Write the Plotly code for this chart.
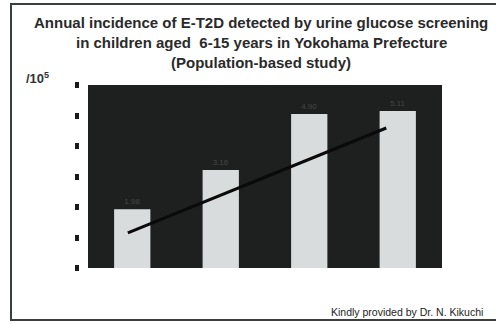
import plotly.graph_objects as go

# Data
categories = ["Y1", "Y2", "Y3", "Y4"]
incidence = [1.93, 3.21, 5.05, 5.15]
bar_labels = ["1.98", "3.16", "4.90", "5.11"]
trend_x = [-0.05, 2.87]
trend_y = [1.15, 4.59]
y_ticks = [0, 1, 2, 3, 4, 5, 6]

W, H = 496, 324
ml, mr, mt, mb = 79, 54, 85, 56
plot_w = W - ml - mr
plot_h = H - mt - mb
x_start = (88 - ml) / plot_w


def px_x(px):
    return (px - ml) / plot_w


def px_y(py):
    return (H - mb - py) / plot_h


fig = go.Figure()
fig.add_trace(go.Bar(
    x=list(range(len(categories))), y=incidence,
    width=0.41,
    marker=dict(color="#d9dcdc", line=dict(width=0)),
    text=bar_labels, textposition="outside",
    textfont=dict(size=8, color="#444746", family="Liberation Sans"),
    cliponaxis=False,
    hoverinfo="skip",
))
fig.add_trace(go.Scatter(
    x=trend_x, y=trend_y, mode="lines",
    line=dict(color="#0a0a0a", width=3),
    hoverinfo="skip",
))

fig.update_layout(
    width=W, height=H,
    margin=dict(l=ml, r=mr, t=mt, b=mb),
    paper_bgcolor="white",
    plot_bgcolor="#1d201f",
    showlegend=False,
    xaxis=dict(
        domain=[x_start, 1],
        range=[-0.5, 3.5],
        showticklabels=False, showgrid=False, zeroline=False,
        ticks="", showline=False,
    ),
    yaxis=dict(
        anchor="free", position=0,
        range=[0, 6],
        tickvals=y_ticks,
        showticklabels=False, showgrid=False, zeroline=False,
        ticks="outside", ticklen=4, tickwidth=6, tickcolor="#1a1a1a",
        showline=False,
    ),
    font=dict(family="Liberation Sans", color="#222"),
)

title_lines = [
    "Annual incidence of E-T2D detected by urine glucose screening",
    "in children aged  6-15 years in Yokohama Prefecture",
    "(Population-based study)",
]
title_y = [22, 43, 62]
for line, ty in zip(title_lines, title_y):
    fig.add_annotation(
        text="<b>" + line + "</b>", xref="paper", yref="paper",
        x=px_x(261), y=px_y(ty),
        showarrow=False, xanchor="center", yanchor="middle",
        font=dict(size=15, color="#2a2a2a", family="Liberation Sans"),
    )

fig.add_annotation(
    text="<b>/10<sup>5</sup></b>", xref="paper", yref="paper",
    x=px_x(24), y=px_y(78),
    showarrow=False, xanchor="left", yanchor="middle",
    font=dict(size=13, color="#333", family="Liberation Sans"),
)
fig.add_annotation(
    text="Kindly provided by Dr. N. Kikuchi", xref="paper", yref="paper",
    x=px_x(485), y=px_y(312),
    showarrow=False, xanchor="right", yanchor="middle",
    font=dict(size=10.5, color="#222", family="Liberation Sans"),
)

# outer frame of the slide
fig.add_shape(
    type="rect", xref="paper", yref="paper",
    x0=px_x(11), x1=px_x(498),
    y0=px_y(320), y1=px_y(4),
    line=dict(color="#3a3f3d", width=2), layer="above",
)

fig.write_html(
    "out.html",
    config={"displayModeBar": False},
    post_script="document.body.style.margin='0';document.body.style.padding='0';",
)
